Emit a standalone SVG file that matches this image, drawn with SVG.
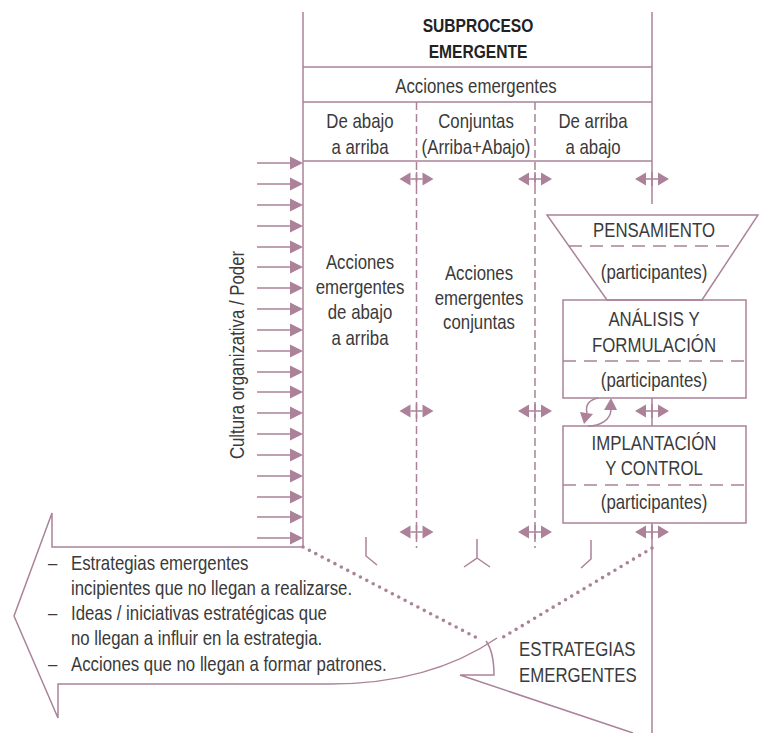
<svg xmlns="http://www.w3.org/2000/svg" width="759" height="733" viewBox="0 0 759 733">
<style>
.ln{stroke:#ab8299;stroke-width:1.5;fill:none}
.ds{stroke:#ab8299;stroke-width:1.5;fill:none;stroke-dasharray:8 4}
.dh{stroke:#ab8299;stroke-width:1.5;fill:none;stroke-dasharray:13 8}
.dot{stroke:#ab8299;stroke-width:3.6;fill:none;stroke-dasharray:0 7.2;stroke-linecap:round}
.hd{fill:#ab8299;stroke:none}
text{font-family:"Liberation Sans",Arial,sans-serif;font-size:20.5px;fill:#3a3a3a;text-anchor:middle}
.b{font-weight:bold;font-size:19px;fill:#222}
.l{text-anchor:start}
</style>
<defs>
<g id="dbl"><polygon class="hd" points="-17,0 -6,-6.5 -6,6.5"/><polygon class="hd" points="17,0 6,-6.5 6,6.5"/><line class="ln" x1="-6" y1="0" x2="6" y2="0"/><line class="ln" x1="0" y1="-7" x2="0" y2="7"/></g>
<g id="ra"><line class="ln" x1="257" y1="0" x2="292" y2="0"/><polygon class="hd" points="290,-6.5 303,0 290,6.5"/></g>
</defs>

<g id="frame">
<line class="ln" x1="303" y1="12" x2="303" y2="547"/>
<line class="ln" x1="652" y1="12" x2="652" y2="204"/>
<line class="ln" x1="303" y1="67" x2="652" y2="67"/>
<line class="ln" x1="303" y1="102" x2="652" y2="102"/>
<line class="ln" x1="303" y1="161" x2="652" y2="161"/>
<line class="ds" x1="416.5" y1="102" x2="416.5" y2="548"/>
<line class="ds" x1="535" y1="102" x2="535" y2="548"/>
</g>

<g id="header">
<text class="b" transform="translate(478,32) scale(0.82,1)">SUBPROCESO</text>
<text class="b" transform="translate(478,58) scale(0.82,1)">EMERGENTE</text>
<text transform="translate(476,93) scale(0.82,1)">Acciones emergentes</text>
<text transform="translate(360,128) scale(0.82,1)">De abajo</text>
<text transform="translate(360,154) scale(0.82,1)">a arriba</text>
<text transform="translate(476,128) scale(0.82,1)">Conjuntas</text>
<text transform="translate(476,154) scale(0.82,1)">(Arriba+Abajo)</text>
<text transform="translate(593,128) scale(0.82,1)">De arriba</text>
<text transform="translate(593,154) scale(0.82,1)">a abajo</text>
</g>

<g id="col-abajo-arriba">
<text transform="translate(360,269) scale(0.82,1)">Acciones</text>
<text transform="translate(360,294) scale(0.82,1)">emergentes</text>
<text transform="translate(360,319) scale(0.82,1)">de abajo</text>
<text transform="translate(360,345) scale(0.82,1)">a arriba</text>
</g>

<g id="col-conjuntas">
<text transform="translate(479,280) scale(0.82,1)">Acciones</text>
<text transform="translate(479,305) scale(0.82,1)">emergentes</text>
<text transform="translate(479,329) scale(0.82,1)">conjuntas</text>
</g>

<g id="cultura">
<text transform="translate(244,355) rotate(-90) scale(0.82,1)">Cultura organizativa / Poder</text>
</g>

<g id="pensamiento">
<polygon class="ln" points="547,215 758,215 702,300 607,300"/>
<line class="dh" x1="569" y1="246" x2="738" y2="246"/>
<text transform="translate(654,237) scale(0.82,1)">PENSAMIENTO</text>
<text transform="translate(654,279) scale(0.82,1)">(participantes)</text>
</g>

<g id="analisis">
<rect class="ln" x="563" y="300" width="183" height="98"/>
<line class="dh" x1="563" y1="361" x2="746" y2="361"/>
<text transform="translate(654,326) scale(0.82,1)">ANÁLISIS Y</text>
<text transform="translate(654,352) scale(0.82,1)">FORMULACIÓN</text>
<text transform="translate(654,387) scale(0.82,1)">(participantes)</text>
</g>

<g id="implantacion">
<rect class="ln" x="563" y="426" width="183" height="97"/>
<line class="dh" x1="563" y1="485" x2="746" y2="485"/>
<text transform="translate(654,450) scale(0.82,1)">IMPLANTACIÓN</text>
<text transform="translate(654,475) scale(0.82,1)">Y CONTROL</text>
<text transform="translate(654,509) scale(0.82,1)">(participantes)</text>
</g>

<g id="descartes">
<path class="ln" d="M303,547 L52,547 L52,513 L14,616 L58,718 L58,684 L330,684 Q430,684 497,638"/>
<text class="l" transform="translate(48,570) scale(0.82,1)">–</text>
<text class="l" transform="translate(71,570) scale(0.82,1)">Estrategias emergentes</text>
<text class="l" transform="translate(71,595) scale(0.82,1)">incipientes que no llegan a realizarse.</text>
<text class="l" transform="translate(48,620) scale(0.82,1)">–</text>
<text class="l" transform="translate(71,620) scale(0.82,1)">Ideas / iniciativas estratégicas que</text>
<text class="l" transform="translate(71,645) scale(0.82,1)">no llegan a influir en la estrategia.</text>
<text class="l" transform="translate(48,671) scale(0.82,1)">–</text>
<text class="l" transform="translate(71,671) scale(0.82,1)">Acciones que no llegan a formar patrones.</text>
</g>

<g id="estrategias">
<path class="ln" d="M486,641 Q494,652 494,675 L460,675 L633,733"/>
<line class="ln" x1="652" y1="523" x2="652" y2="733"/>
<text class="l" transform="translate(519,656) scale(0.82,1)">ESTRATEGIAS</text>
<text class="l" transform="translate(519,682) scale(0.82,1)">EMERGENTES</text>
</g>

<g id="connectors">
<use href="#ra" y="163"/><use href="#ra" y="184"/><use href="#ra" y="205"/><use href="#ra" y="226"/><use href="#ra" y="247"/><use href="#ra" y="267"/><use href="#ra" y="288"/><use href="#ra" y="309"/><use href="#ra" y="330"/><use href="#ra" y="351"/><use href="#ra" y="372"/><use href="#ra" y="392"/><use href="#ra" y="413"/><use href="#ra" y="434"/><use href="#ra" y="455"/><use href="#ra" y="476"/><use href="#ra" y="497"/><use href="#ra" y="517"/><use href="#ra" y="538"/>
<use href="#dbl" x="416.5" y="179"/><use href="#dbl" x="535" y="179"/><use href="#dbl" x="652" y="179"/>
<use href="#dbl" x="416.5" y="411"/><use href="#dbl" x="535" y="411"/><use href="#dbl" x="652" y="411"/>
<use href="#dbl" x="416.5" y="532"/><use href="#dbl" x="535" y="532"/><use href="#dbl" x="652" y="532"/>
<line class="ln" x1="652" y1="398" x2="652" y2="426"/>
<path class="ln" d="M598,398 C589,400 585,405 587,413"/>
<polygon class="hd" points="580,412 593,414 584,424"/>
<path class="ln" d="M588,426 C600,426 611,420 611,409"/>
<polygon class="hd" points="604,410 617,410 611,398"/>
<path class="ln" d="M366,537 L366,556 L377,565"/>
<path class="ln" d="M477,539 L477,558 L464,567 M477,558 L490,567"/>
<path class="ln" d="M591,540 L591,559 L581,568"/>
<line class="dot" x1="303" y1="547" x2="481" y2="640"/>
<line class="dot" x1="652" y1="548" x2="500" y2="639"/>
</g>
</svg>
